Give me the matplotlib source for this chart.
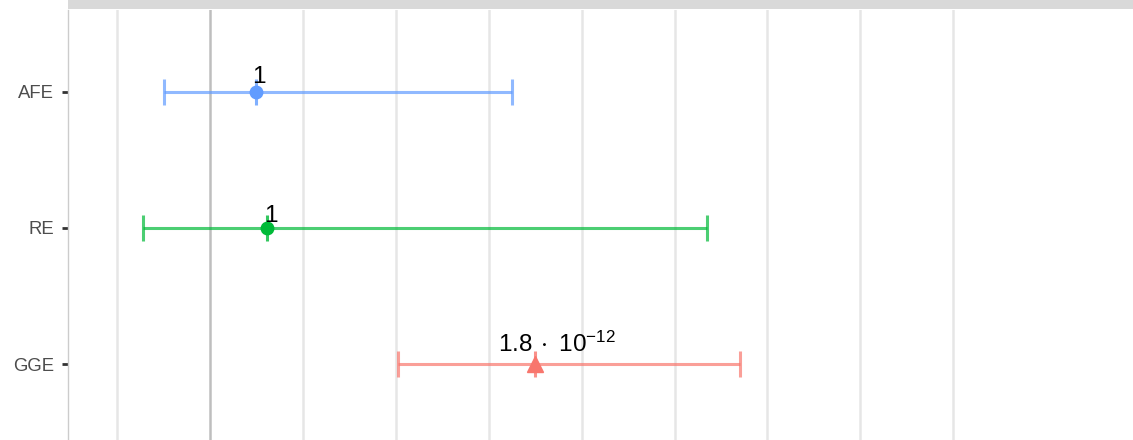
import matplotlib.pyplot as plt

plt.rcParams['font.family'] = ['Liberation Sans', 'DejaVu Sans']
plt.rcParams['mathtext.fontset'] = 'custom'
plt.rcParams['mathtext.rm'] = 'Liberation Sans'
plt.rcParams['mathtext.default'] = 'regular'

# data (x in axis units, 0 = reference line)
models = ['GGE', 'RE', 'AFE']
estimate = [3.495, 0.62, 0.502]
lower = [2.029, -0.72, -0.49]
upper = [5.699, 5.352, 3.255]
labels = ['1.8$\\,\\cdot$ 10$^{-12}$', '1', '1']

point_cols = ['#F8766D', '#00BA38', '#619CFF']
markers = ['^', 'o', 'o']
nudge_px = [(22, 12), (3.5, 6), (2, 8.5)]

W, H = 1133, 440
fig = plt.figure(figsize=(W / 100, H / 100), dpi=100)
ax = fig.add_axes([68 / W, 0, 1 - 68 / W, 430 / H])

# strip on top
strip = fig.add_axes([68 / W, 431 / H, 1 - 68 / W, 9 / H])
strip.set_facecolor('#d9d9d9')
strip.set_xticks([])
strip.set_yticks([])
for s in strip.spines.values():
    s.set_visible(False)

ypos = list(range(1, len(models) + 1))

for gx in range(-1, 9):
    if gx == 0:
        ax.axvline(gx, color='#bebebe', lw=1.8, zorder=1)
    else:
        ax.axvline(gx, color='#e6e6e6', lw=1.8, zorder=0)

for i, y in enumerate(ypos):
    c = point_cols[i]
    ax.errorbar(estimate[i], y, xerr=[[estimate[i] - lower[i]], [upper[i] - estimate[i]]],
                fmt='none', ecolor=c, alpha=0.7, elinewidth=2.2, capsize=9.4,
                capthick=2.2, zorder=2)
    ax.plot(estimate[i], y, marker='|', color=c, alpha=0.8, markersize=18.7,
            markeredgewidth=2.2, zorder=3)
    ax.plot(estimate[i], y, marker=markers[i], color=c, markersize=9 if markers[i] == 'o' else 11.5,
            linestyle='none', zorder=4)
    dx, dy = nudge_px[i]
    ax.annotate(labels[i], (estimate[i], y), xytext=(dx * 0.72, dy * 0.72),
                textcoords='offset points', ha='center', va='baseline',
                fontsize=17.5, color='black', zorder=5)

ax.set_xlim(-1.525, 9.932)
ax.set_ylim(0.4446, 3.599)
ax.set_yticks(ypos)
ax.set_yticklabels(models)
ax.set_xticks([])
ax.tick_params(axis='y', length=4.3, width=2.0, color='#333333', labelcolor='#4d4d4d',
               labelsize=13.3, pad=6)
for side in ['top', 'right', 'bottom']:
    ax.spines[side].set_visible(False)
ax.spines['left'].set_color('#cccccc')
ax.spines['left'].set_linewidth(1)

fig.savefig('out.png', dpi=100)
